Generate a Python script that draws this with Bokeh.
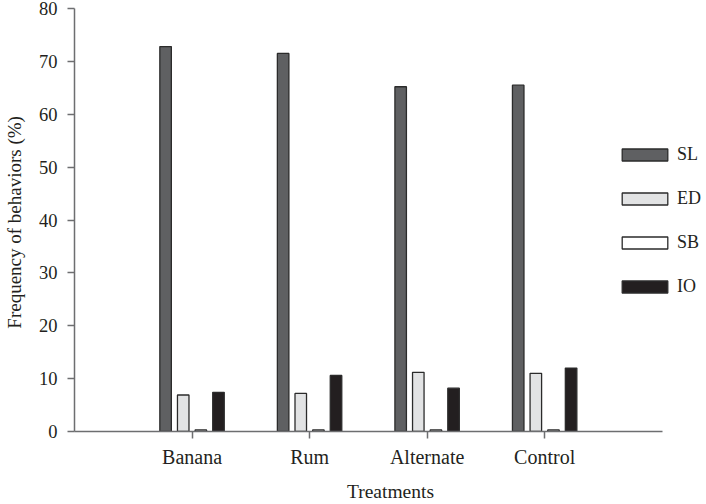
from bokeh.plotting import figure
from bokeh.models import ColumnDataSource, Legend, LegendItem, SingleIntervalTicker, FixedTicker, Range1d
from bokeh.transform import dodge
from bokeh.embed import file_html
from bokeh.resources import INLINE

treatments = ["Banana", "Rum", "Alternate", "Control"]
series = ["SL", "ED", "SB", "IO"]
SL = [72.8, 71.5, 65.2, 65.5]
ED = [6.9, 7.2, 11.2, 11.0]
SB = [0.3, 0.3, 0.3, 0.3]
IO = [7.4, 10.6, 8.2, 12.0]
fills = ["#5f6062", "#e2e3e4", "#ffffff", "#231f20"]

idx = list(range(len(treatments)))
source = ColumnDataSource(data=dict(pos=idx, treatment=treatments, SL=SL, ED=ED, SB=SB, IO=IO))

FONT = "Liberation Serif"

p = figure(x_range=Range1d(-1.0, 4.377), y_range=Range1d(0, 80), width=706, height=504,
           output_backend="svg", toolbar_location=None,
           min_border_left=70, min_border_right=0, min_border_top=8, min_border_bottom=73)

offsets = [-0.225, -0.075, 0.075, 0.225]
renderers = []
for name, off, col in zip(series, offsets, fills):
    r = p.vbar(x=dodge("pos", off), top=name, width=0.098,
               source=source, fill_color=col, line_color="#2b2b2b", line_width=1.3)
    renderers.append(r)

legend = Legend(items=[LegendItem(label=s, renderers=[r]) for s, r in zip(series, renderers)],
                location=(542, 134), orientation="vertical",
                glyph_width=57, glyph_height=15, label_height=20, spacing=23,
                label_standoff=4, padding=0, margin=0,
                border_line_color=None, background_fill_alpha=0,
                label_text_font=FONT, label_text_font_size="18px", label_text_color="#231f20")
p.add_layout(legend)

p.xgrid.visible = False
p.ygrid.visible = False
p.outline_line_color = None
p.background_fill_color = "white"

p.yaxis.ticker = SingleIntervalTicker(interval=10, num_minor_ticks=0)
p.xaxis.ticker = FixedTicker(ticks=idx)
p.xaxis.major_label_overrides = {i: t for i, t in zip(idx, treatments)}
p.xaxis.bounds = (-1, 4)

for ax in (p.xaxis[0], p.yaxis[0]):
    ax.axis_line_color = "#6d6e70"
    ax.axis_line_width = 1.5
    ax.major_tick_line_color = "#6d6e70"
    ax.major_tick_line_width = 1.5
    ax.major_tick_in = 0
    ax.major_tick_out = 7
    ax.minor_tick_line_color = None
    ax.major_label_text_font = FONT
    ax.major_label_text_color = "#231f20"
    ax.axis_label_text_font = FONT
    ax.axis_label_text_font_style = "normal"
    ax.axis_label_text_color = "#231f20"

p.yaxis.major_label_text_font_size = "18.5px"
p.yaxis.major_label_standoff = 10
p.yaxis.axis_label = "Frequency of behaviors  (%)"
p.yaxis.axis_label_text_font_size = "19px"
p.yaxis.axis_label_standoff = 11

p.xaxis.major_label_text_font_size = "20px"
p.xaxis.major_label_standoff = 7
p.xaxis.axis_label = "Treatments"
p.xaxis.axis_label_text_font_size = "19.5px"
p.xaxis.axis_label_standoff = 10

open("out.html", "w").write(file_html(p, INLINE))
